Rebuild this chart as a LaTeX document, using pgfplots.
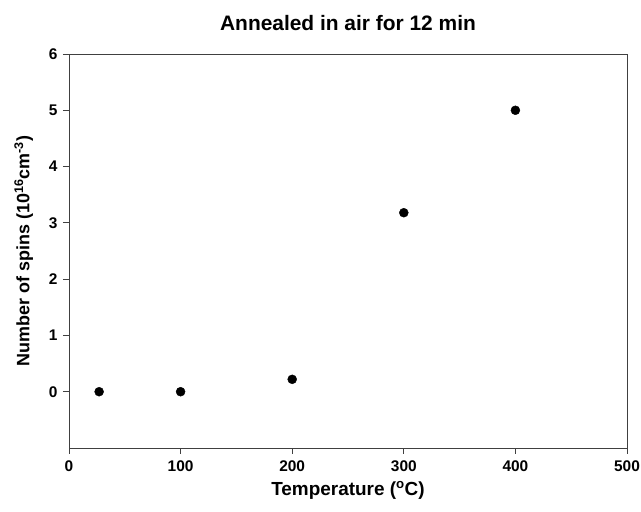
\documentclass[border=0pt]{standalone}
\usepackage{pgfplots}
\pgfplotsset{compat=1.18}
\usepackage{fontspec}
\setmainfont{Liberation Sans}
\begin{document}
\begin{tikzpicture}
\begin{axis}[
  name=ax,
  scale only axis,
  width=558bp, height=394bp,
  xmin=0, xmax=500, ymin=-1, ymax=6,
  xtick={0,100,...,500}, ytick={0,1,...,6},
  tick align=outside, xtick pos=bottom, ytick pos=left,
  major tick length=6bp,
  axis line style={line width=0.8pt, black!75},
  tick style={line width=0.8pt, black!75},
  xticklabel={\pgfmathprintnumber[assume math mode=true]{\tick}},
  yticklabel={\pgfmathprintnumber[assume math mode=true]{\tick}},
  tick label style={font=\fontsize{15.5}{18}\selectfont\bfseries},
  xticklabel style={yshift=-3bp},
  yticklabel style={xshift=-2bp},
  title={Annealed in air for 12 min},
  title style={font=\fontsize{21}{25}\selectfont\bfseries, yshift=14bp},
  xlabel={Temperature (\textsuperscript{o}C)},
  xlabel style={font=\fontsize{19}{22}\selectfont\bfseries, yshift=-3bp},
  ylabel={Number of spins (10\textsuperscript{16}cm\textsuperscript{-3})},
  ylabel style={font=\fontsize{18}{21}\selectfont\bfseries, yshift=9bp},
]
\addplot[only marks, mark=*, mark size=4.5bp, black] coordinates {
  (27,0) (100,0) (200,0.22) (300,3.18) (400,5.0)
};
\end{axis}
\pgfresetboundingbox
\path[use as bounding box] ([shift={(-69bp,-64bp)}]ax.south west) rectangle ([shift={(14bp,54bp)}]ax.north east);
\end{tikzpicture}
\end{document}
